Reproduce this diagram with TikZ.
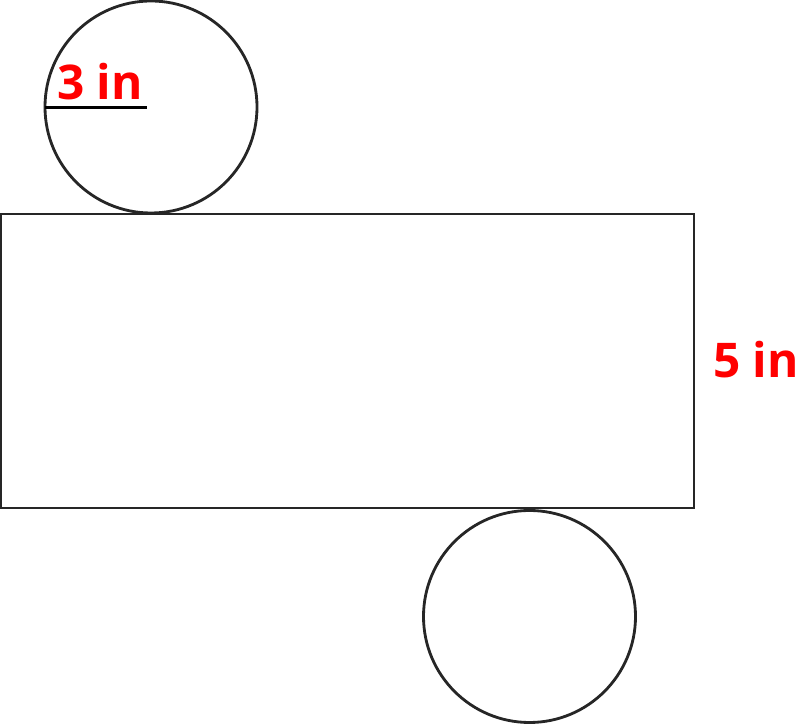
\documentclass[tikz,border=0pt]{standalone}
\usepackage{fontspec}
\setmainfont{Open Sans}
\tikzset{
  outline/.style={draw=black!85,line width=2pt},
  measure/.style={text=red,font=\bfseries\fontsize{34}{38}\selectfont,inner sep=0pt},
}
\begin{document}
\begin{tikzpicture}
    \useasboundingbox (0,0) rectangle (20,18.125);
    % Draw rectangle
    \draw[outline] (0.025,5.425) rectangle (17.35,12.775);
    % Draw circles
    \coordinate (topc) at (3.775,15.45);
    \coordinate (botc) at (13.2375,2.7125);
    \draw[outline] (topc) circle (2.65);
    \draw[outline] (botc) circle (2.65);
    % Draw radius
    \coordinate (radleft) at (1.125,15.4375);
    \coordinate (radright) at (3.675,15.4375);
    \draw[outline,black] (radleft) -- (radright);
    % Draw labels
    \node (radius) [measure,anchor=base] at (2.5,15.625) {3 in};
    \node (height) [measure,anchor=base] at (18.9,8.675) {5 in};
\end{tikzpicture}
\end{document}
